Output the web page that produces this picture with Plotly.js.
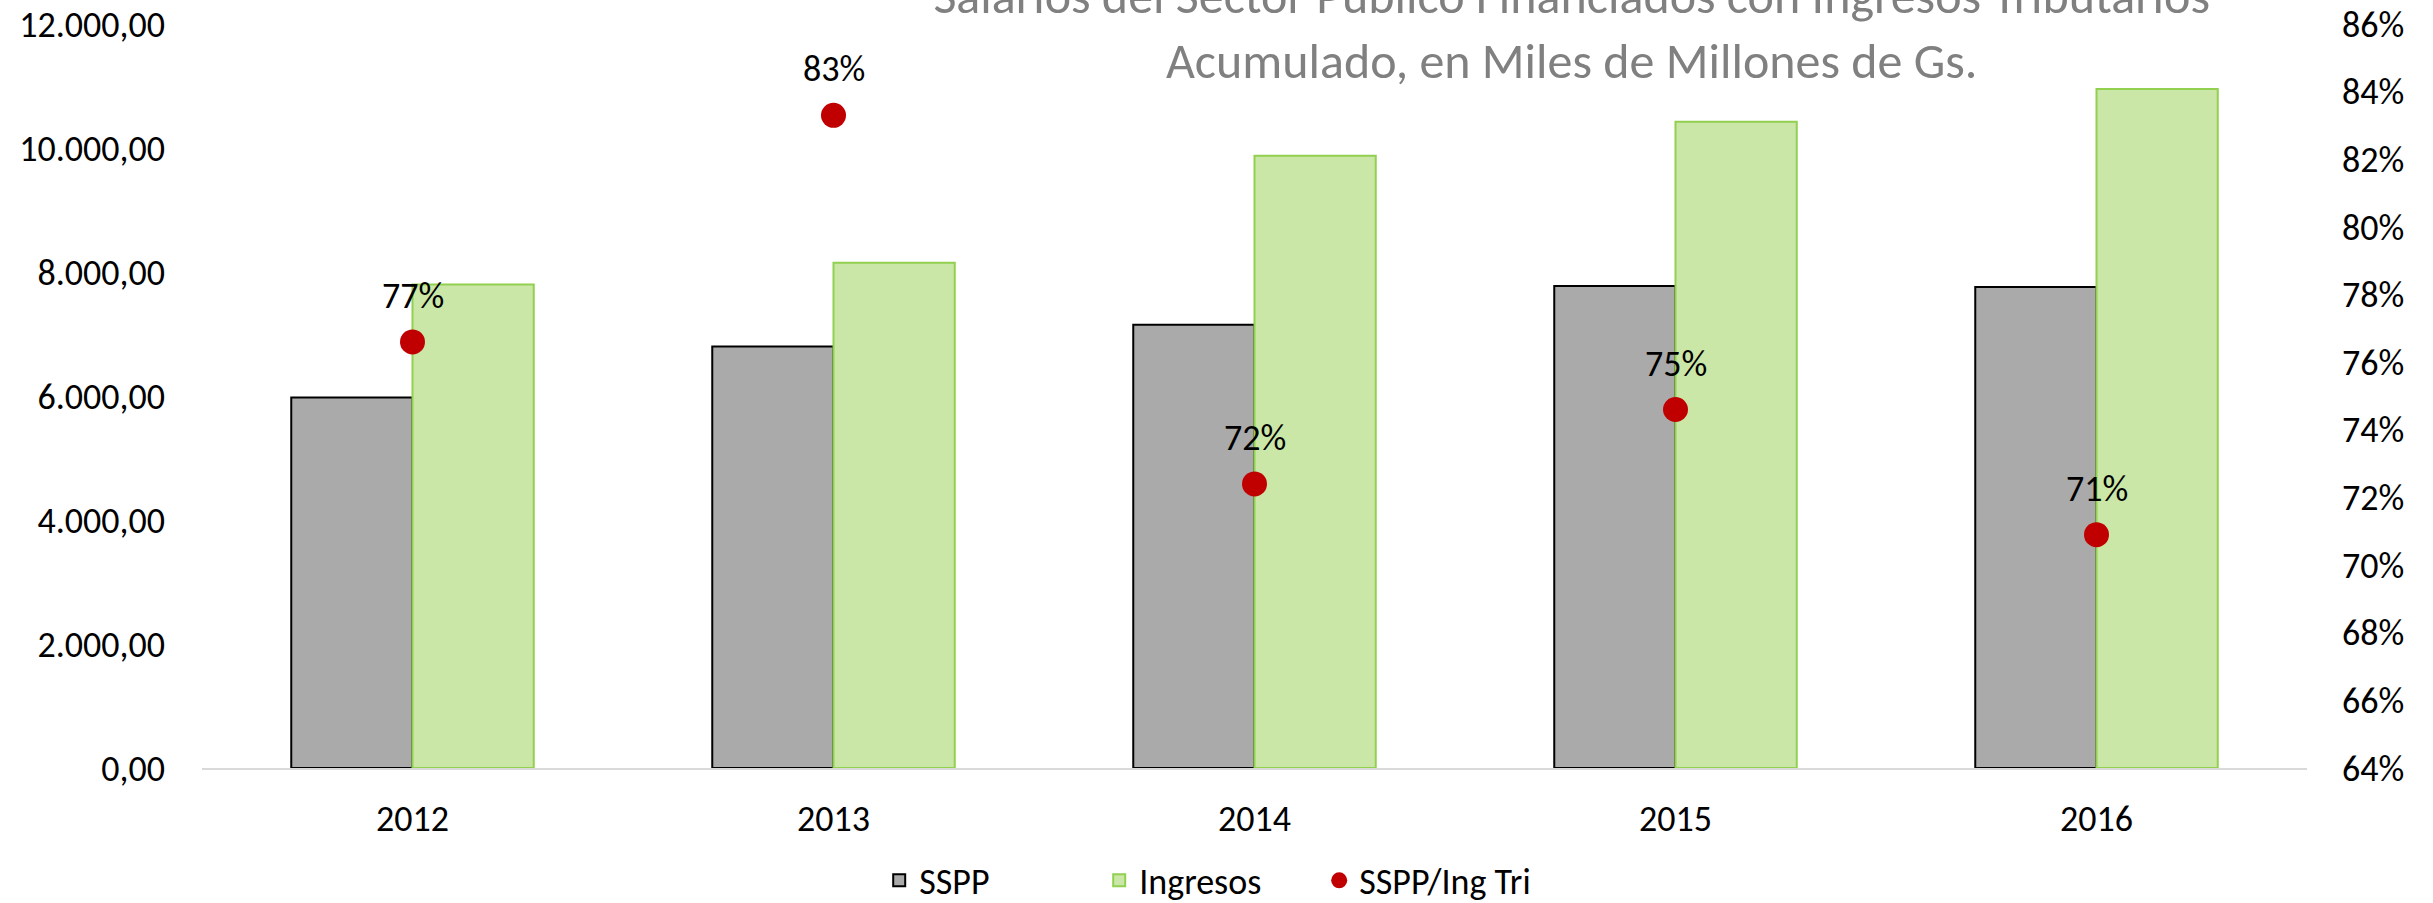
<!DOCTYPE html>
<html>
<head>
<meta charset="utf-8">
<script src="https://cdn.plot.ly/plotly-3.0.1.min.js"></script>
<style>html,body{margin:0;padding:0;background:#fff;}#chart{width:2433px;height:903px;}</style>
</head>
<body>
<div id="chart"></div>
<script>
var years = ['2012', '2013', '2014', '2015', '2016'];
var sspp = [5975, 6800, 7150, 7775, 7760];
var ingresos = [7800, 8150, 9875, 10425, 10950];
var ratio = [0.766, 0.833, 0.724, 0.746, 0.709];
var leftTicks = [0, 2000, 4000, 6000, 8000, 10000, 12000];
var rightTicks = [0.64, 0.66, 0.68, 0.70, 0.72, 0.74, 0.76, 0.78, 0.80, 0.82, 0.84, 0.86];

var FONT = 'Carlito, Calibri, Lato, sans-serif';
var FS = 36;

var traces = [
  {type: 'bar', name: 'SSPP', x: years, y: sspp,
   marker: {color: '#aaaaaa', line: {color: '#000000', width: 2}}, hoverinfo: 'x+y'},
  {type: 'bar', name: 'Ingresos', x: years, y: ingresos,
   marker: {color: '#cbe7a7', line: {color: '#92d050', width: 2}}, hoverinfo: 'x+y'},
  {type: 'scatter', mode: 'markers', name: 'SSPP/Ing Tri', x: years, y: ratio, yaxis: 'y2',
   marker: {color: '#c00000', size: 25}}
];

var annotations = years.map(function (yr, i) {
  return {x: i, y: ratio[i], xref: 'x', yref: 'y2', text: Math.round(ratio[i] * 100) + '%',
    showarrow: false, yshift: 46, font: {family: FONT, size: FS, color: '#000'}};
});

var layout = {
  width: 2433, height: 903,
  paper_bgcolor: '#ffffff', plot_bgcolor: '#ffffff',
  separators: ',.',
  margin: {l: 202, r: 126, t: 24, b: 135},
  font: {family: FONT, size: FS, color: '#000000'},
  title: {text: 'Salarios del Sector Público Financiados con Ingresos Tributarios<br>Acumulado, en Miles de Millones de Gs.',
    font: {family: FONT, size: 50, color: '#808080'},
    x: 0.646, xanchor: 'center', xref: 'container',
    y: 0.986, yanchor: 'middle', yref: 'container'},
  barmode: 'group', bargap: 0.424, bargroupgap: 0,
  showlegend: true,
  legend: {orientation: 'h', xref: 'container', yref: 'container', x: 0.497, xanchor: 'center',
    y: 0.025, yanchor: 'middle', font: {family: FONT, size: FS, color: '#000'},
    entrywidth: 175, entrywidthmode: 'pixels', bgcolor: 'rgba(0,0,0,0)'},
  xaxis: {type: 'category', range: [-0.5, 4.5], autorange: false, showgrid: false, showline: true,
    linecolor: '#d9d9d9', linewidth: 2, ticks: '', ticklabelstandoff: 18,
    tickfont: {family: FONT, size: FS, color: '#000'}, zeroline: false},
  yaxis: {range: [0, 12000], autorange: false, tickvals: leftTicks, tickformat: ',.2f', showgrid: false, zeroline: false,
    showline: false, ticks: '', ticklabelstandoff: 36, tickfont: {family: FONT, size: FS, color: '#000'}},
  yaxis2: {range: [0.64, 0.86], autorange: false, tickvals: rightTicks, tickformat: '.0%', overlaying: 'y', side: 'right',
    showgrid: false, zeroline: false, showline: false, ticks: '', ticklabelstandoff: 34,
    tickfont: {family: FONT, size: FS, color: '#000'}},
  annotations: annotations
};

Plotly.newPlot('chart', traces, layout, {displayModeBar: false});
</script>
</body>
</html>
